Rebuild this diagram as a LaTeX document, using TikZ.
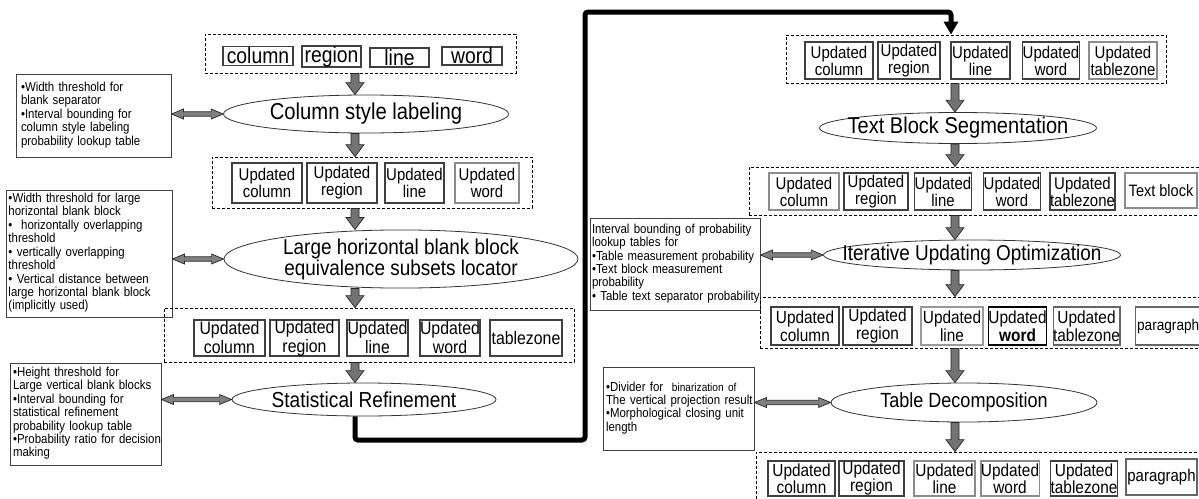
\documentclass[tikz,border=0pt]{standalone}
\usepackage{fontspec}
\setmainfont{Liberation Sans}[FakeStretch=0.88]
\usetikzlibrary{calc,arrows.meta,shapes.geometric}

\newcommand\fs[2]{\fontsize{#1}{#2}\selectfont}
\newcommand\zw[1]{\makebox[0pt]{#1}}
% left-aligned lines that never wrap
\newcommand\rows[1]{\begin{tabular}{@{}l@{}}#1\end{tabular}}

% gray block arrow pointing down, from #1 to the tip at #2
\newcommand\flowdown[2]{%
  \draw[flow] ($(#1)+(-4,0)$) -- ($(#2)+(-4,-12)$) -- ($(#2)+(-9,-12)$) -- (#2)
    -- ($(#2)+(9,-12)$) -- ($(#2)+(4,-12)$) -- ($(#1)+(4,0)$) -- cycle;}
% two-headed horizontal arrow between a parameter box and a stage
\newcommand\flowboth[2]{%
  \draw[link] (#1) -- ($(#1)+(12,-5)$) -- ($(#1)+(12,-2.2)$) -- ($(#2)+(-12,-2.2)$)
    -- ($(#2)+(-12,-5)$) -- (#2) -- ($(#2)+(-12,5)$) -- ($(#2)+(-12,2.2)$)
    -- ($(#1)+(12,2.2)$) -- ($(#1)+(12,5)$) -- cycle;}

\tikzset{
  grp/.style={draw=black, line width=0.8pt, dash pattern=on 3pt off 2pt, inner sep=0pt},
  cell/.style={draw=#1, line width=1.2pt, inner sep=0pt, align=center, font=\fs{17}{17}},
  cell/.default={black!75},
  stage/.style={ellipse, draw=black!80, line width=0.8pt, inner sep=0pt, align=center},
  note/.style={draw=black!75, line width=0.9pt, inner sep=0pt, align=left, font=\fs{13}{13.3}},
  flow/.style={fill=black!55, draw=black!85, line width=0.7pt},
  link/.style={fill=black!50, draw=black!85, line width=0.7pt},
  loopline/.style={line width=5pt, rounded corners=3pt, -{Triangle[width=14pt,length=13pt]}},
}

\begin{document}
\begin{tikzpicture}[x=1pt,y=-1pt]
\useasboundingbox (0,0) rectangle (1199,498);
\clip (0,0) rectangle (1199,498);

\coordinate (lx) at (355,0);
\coordinate (rx) at (955,0);
\coordinate (tx) at (951,0);
\coordinate (t1) at (585,440);
\coordinate (t2) at (585,12);

% ---------- left column ----------
\node[grp, minimum width=311pt, minimum height=39pt] (A) at (360.5,53.5) {};
\node[cell, font=\fs{22}{22}, minimum width=70pt, minimum height=19pt] (a1) at (258,56) {column};
\node[cell, font=\fs{22}{22}, minimum width=59pt, minimum height=21pt] (a2) at (331.5,56.5) {region};
\node[cell, font=\fs{22}{22}, minimum width=59pt, minimum height=19pt] (a3) at (399.5,57.5) {line};
\node[cell, font=\fs{22}{22}, minimum width=60pt, minimum height=18pt] (a4) at (472,56) {word};

\node[stage, font=\fs{23}{23}, minimum width=285pt, minimum height=38pt] (E1) at (366,114) {\zw{Column style labeling}};
\node[note, minimum width=155pt, minimum height=83pt, text width=145pt] (N1) at (93.5,115.5)
  {\rows{•Width threshold for\\blank separator\\•Interval bounding for\\column style labeling\\probability lookup table}};

\node[grp, minimum width=320pt, minimum height=51pt] (B) at (372,182.5) {};
\node[cell, minimum width=70pt, minimum height=40pt] (b1) at (267,183) {Updated\\column};
\node[cell, minimum width=70pt, minimum height=40pt] (b2) at (342,183) {Updated\\region};
\node[cell, minimum width=59pt, minimum height=40pt] (b3) at (414.5,183) {Updated\\line};
\node[cell=black!45, minimum width=64pt, minimum height=40pt] (b4) at (487,183) {Updated\\word};

\node[stage, font=\fs{21.5}{19}, minimum width=354pt, minimum height=58pt] (E2) at (401,259)
  {Large horizontal blank block\\equivalence subsets locator};
\node[note, minimum width=166pt, minimum height=127pt, text width=161pt] (N2) at (89,253.5)
  {\rows{•Width threshold for large\\horizontal blank block\\•\ \ horizontally overlapping\\threshold\\• vertically overlapping\\threshold\\• Vertical distance between\\large horizontal blank block\\(implicitly used)}};

\node[grp, minimum width=410pt, minimum height=54pt] (C) at (369,335) {};
\node[cell, font=\fs{18}{19}, minimum width=71pt, minimum height=36pt] (c1) at (229.5,338) {Updated\\column};
\node[cell, font=\fs{18}{19}, minimum width=69pt, minimum height=36pt] (c2) at (304.5,338) {Updated\\region};
\node[cell, font=\fs{18}{19}, minimum width=61pt, minimum height=36pt] (c3) at (377.5,338) {Updated\\line};
\node[cell, font=\fs{18}{19}, minimum width=60pt, minimum height=36pt] (c4) at (450,338) {Updated\\word};
\node[cell, font=\fs{18}{19}, minimum width=72pt, minimum height=36pt] (c5) at (526,338) {tablezone};

\node[stage, font=\fs{21.7}{21.7}, minimum width=264pt, minimum height=33pt] (E3) at (364,399.5) {\zw{Statistical Refinement}};
\node[note, minimum width=151pt, minimum height=102pt, text width=145pt] (N3) at (85.5,414)
  {\rows{•Height threshold for\\Large vertical blank blocks\\•Interval bounding for\\statistical refinement\\probability lookup table\\•Probability ratio for decision\\making}};

% ---------- right column ----------
\node[grp, minimum width=380pt, minimum height=48pt] (R1) at (976,59) {};
\node[cell, minimum width=68pt, minimum height=37pt] (r1a) at (839,60.5) {Updated\\column};
\node[cell, minimum width=62pt, minimum height=37pt] (r1b) at (909,60.5) {Updated\\region};
\node[cell, minimum width=59pt, minimum height=37pt] (r1c) at (980.5,60.5) {Updated\\line};
\node[cell, minimum width=56pt, minimum height=37pt] (r1d) at (1051,60.5) {Updated\\word};
\node[cell=black!45, minimum width=68pt, minimum height=37pt] (r1e) at (1123,60.5) {Updated\\tablezone};

\node[stage, font=\fs{22.8}{22.8}, minimum width=277pt, minimum height=31pt] (ER1) at (958,128) {\zw{Text Block Segmentation}};

\node[grp, minimum width=456pt, minimum height=48pt] (R2) at (977,191) {};
\node[cell=black!45, minimum width=70pt, minimum height=37pt] (r2a) at (804,191.5) {Updated\\column};
\node[cell, minimum width=64pt, minimum height=37pt] (r2b) at (876,191.5) {Updated\\region};
\node[cell, minimum width=56pt, minimum height=37pt] (r2c) at (943,191.5) {Updated\\line};
\node[cell, minimum width=56pt, minimum height=37pt] (r2d) at (1012,191.5) {Updated\\word};
\node[cell, minimum width=61pt, minimum height=37pt] (r2e) at (1082.5,191.5) {Updated\\tablezone};
\node[cell=black!45, font=\fs{16.5}{16.5}, minimum width=72pt, minimum height=35pt] (r2f) at (1161,190.5) {Text block};

\node[stage, font=\fs{21.5}{21.5}, minimum width=297pt, minimum height=30pt] (ER2) at (972,255) {\zw{Iterative Updating Optimization}};
\node[note, minimum width=170pt, minimum height=92pt, text width=166pt] (NR1) at (675,264)
  {\rows{Interval bounding of probability\\lookup tables for\\•Table measurement probability\\•Text block measurement\\probability\\• Table text separator probability}};

\node[grp, minimum width=445pt, minimum height=51pt] (R3) at (982.5,322.5) {};
\node[cell, font=\fs{17.5}{18}, minimum width=68pt, minimum height=38pt] (r3a) at (805,326) {Updated\\column};
\node[cell, font=\fs{17.5}{18}, minimum width=69pt, minimum height=38pt] (r3b) at (877.5,326) {Updated\\region};
\node[cell=black!40, font=\fs{17.5}{18}, minimum width=62pt, minimum height=38pt] (r3c) at (952,326) {Updated\\line};
\node[cell=black, font=\fs{17.5}{18}, minimum width=57pt, minimum height=38pt] (r3d) at (1017.5,326) {Updated\\\textbf{word}};
\node[cell=black!60, font=\fs{17.5}{18}, minimum width=61pt, minimum height=38pt] (r3e) at (1086.5,326) {Updated\\tablezone};
\node[cell=black!60, font=\fs{15.5}{16}, inner xsep=2pt, minimum height=38pt, anchor=west] (r3f) at (1134.5,326) {paragraph};

\node[stage, font=\fs{20.5}{20.5}, minimum width=266pt, minimum height=39pt] (ER3) at (964,402.5) {\zw{Table Decomposition}};
\node[note, minimum width=151pt, minimum height=83pt, text width=145pt] (NR2) at (678.5,408.5)
  {\rows{•Divider for\ \ {\fs{11.5}{13.3}binarization of}\\The vertical projection result\\•Morphological closing unit\\length}};

\node[grp, minimum width=454pt, minimum height=58pt] (R4) at (983,481) {};
\node[cell, font=\fs{17.5}{17.5}, minimum width=67pt, minimum height=35pt] (r4a) at (801.5,478.5) {Updated\\column};
\node[cell, font=\fs{17.5}{17.5}, minimum width=65pt, minimum height=35pt] (r4b) at (871.5,478.5) {Updated\\region};
\node[cell=black!45, font=\fs{17.5}{17.5}, minimum width=61pt, minimum height=35pt] (r4c) at (944.5,478.5) {Updated\\line};
\node[cell=black!45, font=\fs{17.5}{17.5}, minimum width=56pt, minimum height=35pt] (r4d) at (1010,478.5) {Updated\\word};
\node[cell, font=\fs{17.5}{17.5}, minimum width=66pt, minimum height=35pt] (r4e) at (1084,478.5) {Updated\\tablezone};
\node[cell=black!60, font=\fs{17}{17}, minimum width=71pt, minimum height=36pt] (r4f) at (1161.5,477) {paragraph};

% ---------- flow arrows ----------
\flowdown{A.south -| lx}{E1.north -| lx}
\flowdown{E1.south -| lx}{B.north -| lx}
\flowdown{B.south -| lx}{E2.north -| lx}
\flowdown{E2.south -| lx}{C.north -| lx}
\flowdown{C.south -| lx}{E3.north -| lx}

\flowdown{R1.south -| rx}{ER1.north -| rx}
\flowdown{ER1.south -| rx}{R2.north -| rx}
\flowdown{R2.south -| rx}{ER2.north -| rx}
\flowdown{ER2.south -| rx}{R3.north -| rx}
\flowdown{R3.south -| rx}{ER3.north -| rx}
\flowdown{ER3.south -| rx}{R4.north -| rx}

\flowboth{N1.east |- E1.west}{E1.west}
\flowboth{N2.east |- E2.west}{E2.west}
\flowboth{N3.east |- E3.west}{E3.west}
\flowboth{NR1.east |- ER2.west}{ER2.west}
\flowboth{NR2.east |- ER3.west}{ER3.west}

% hand-over from the left pipeline to the right one
\draw[loopline] (E3.south -| lx) |- (t1) -- (t2) -| (R1.north -| tx);
\end{tikzpicture}
\end{document}
